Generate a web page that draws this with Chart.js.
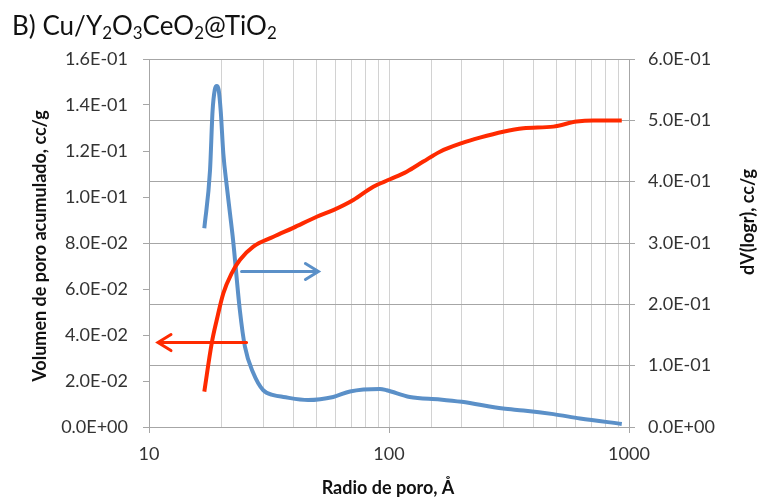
<!DOCTYPE html>
<html>
<head>
<meta charset="utf-8">
<script src="https://cdn.jsdelivr.net/npm/chart.js"></script>
<style>
  body { margin: 0; background: #fff; }
  #wrap { position: relative; width: 760px; height: 498px; }
  #titulo {
    position: absolute; left: 12px; top: 12px;
    font-family: Lato, "Open Sans", sans-serif; font-size: 26px; line-height: 1;
    color: #111; white-space: nowrap;
  }
  #titulo sub { font-size: 0.65em; vertical-align: -0.25em; }
</style>
</head>
<body>
<div id="wrap">
  <canvas id="poros" width="760" height="498"></canvas>
  <div id="titulo">B) Cu/Y<sub>2</sub>O<sub>3</sub>CeO<sub>2</sub>@TiO<sub>2</sub></div>
</div>
<script>
// volumen de poro acumulado (eje izquierdo)
const radioAcum = [17.0, 18.25, 19.15, 20.4, 22.1, 23.9, 27.2, 33, 39.9, 50, 58.6, 71, 86, 101, 118.5, 139, 163, 201, 239, 299, 363, 484, 605, 710, 933]
const volAcum = [0.0154, 0.0364, 0.0465, 0.0581, 0.0668, 0.0726, 0.0784, 0.0827, 0.0866, 0.0914, 0.0943, 0.0987, 0.1045, 0.1077, 0.1110, 0.1154, 0.1197, 0.1234, 0.1258, 0.1284, 0.1299, 0.1306, 0.1328, 0.1333, 0.1333]

// dV(logr) (eje derecho)
const radioDist = [17.0, 17.96, 18.4, 18.8, 19.15, 19.5, 19.9, 20.4, 21.1, 21.75, 22.4, 23.9, 25.1, 27.2, 29.9, 33, 36.3, 46, 58.6, 68.8, 91.7, 97.8, 122, 163, 201, 299, 363, 484, 625, 933]
const dVlogr = [0.324, 0.419, 0.515, 0.550, 0.556, 0.550, 0.515, 0.446, 0.392, 0.348, 0.305, 0.191, 0.131, 0.088, 0.060, 0.052, 0.049, 0.044, 0.049, 0.058, 0.062, 0.060, 0.049, 0.045, 0.041, 0.030, 0.027, 0.021, 0.014, 0.005]

// flechas (x inicio, x punta, y en eje izquierdo)
const flechaAzul = [24.3, 50.8, 0.0676]
const flechaRoja = [25.5, 10.9, 0.0367]

const ticksX = [10, 100, 1000]
const tituloX = 'Radio de poro, Å'
const tituloY = 'Volumen de poro acumulado, cc/g'
const tituloY1 = 'dV(logr), cc/g'

const rojo = '#ff2a00'
const azul = '#5b90c8'
const fuente = 'Lato, "Open Sans", sans-serif'

function expo(v){
  return v.toExponential(1).toUpperCase().replace(/E([+-])(\d)$/, 'E$10$2')
}

const flechas = {
  id: 'flechas',
  afterDatasetsDraw(chart){
    const ctx = chart.ctx, x = chart.scales.x, y = chart.scales.y
    ;[[flechaAzul, azul], [flechaRoja, rojo]].forEach(([f, col]) => {
      const x0 = x.getPixelForValue(f[0]), x1 = x.getPixelForValue(f[1]), yy = y.getPixelForValue(f[2])
      const dir = x1 > x0 ? 1 : -1
      ctx.save()
      ctx.strokeStyle = col
      ctx.lineWidth = 3
      ctx.lineCap = 'round'
      ctx.beginPath()
      ctx.moveTo(x0, yy); ctx.lineTo(x1, yy)
      ctx.moveTo(x1 - dir*13, yy - 8); ctx.lineTo(x1, yy); ctx.lineTo(x1 - dir*13, yy + 8)
      ctx.stroke()
      ctx.restore()
    })
  }
}

const titulos = {
  id: 'titulos',
  afterDraw(chart){
    const ctx = chart.ctx
    ctx.save()
    ctx.fillStyle = '#111'
    ctx.font = 'bold 18px ' + fuente
    ctx.textAlign = 'center'
    ctx.textBaseline = 'middle'
    ctx.fillText(tituloX, 388, 488)
    ctx.translate(40, 246); ctx.rotate(-Math.PI/2); ctx.fillText(tituloY, 0, 0)
    ctx.restore()
    ctx.save()
    ctx.fillStyle = '#111'
    ctx.font = 'bold 18px ' + fuente
    ctx.textAlign = 'center'
    ctx.textBaseline = 'middle'
    ctx.translate(748, 222); ctx.rotate(-Math.PI/2); ctx.fillText(tituloY1, 0, 0)
    ctx.restore()
  }
}

let ctx = document.getElementById('poros').getContext('2d')
let myChart = new Chart(ctx, {
  type: 'line',
  data: {
    datasets: [{
      label: 'Volumen acumulado',
      data: radioAcum.map((r, i) => ({x: r, y: volAcum[i]})),
      borderColor: rojo,
      borderWidth: 4,
      pointRadius: 0,
      cubicInterpolationMode: 'monotone',
      yAxisID: 'y'
    }, {
      label: 'dV(logr)',
      data: radioDist.map((r, i) => ({x: r, y: dVlogr[i]})),
      borderColor: azul,
      borderWidth: 4,
      pointRadius: 0,
      cubicInterpolationMode: 'monotone',
      yAxisID: 'y1'
    }]
  },
  options: {
    responsive: false,
    animation: false,
    layout: { padding: { top: 59, left: 0, right: 0, bottom: 0 } },
    plugins: { legend: { display: false }, tooltip: { enabled: false } },
    scales: {
      x: {
        type: 'logarithmic',
        min: 10, max: 1000,
        afterFit: s => { s.height = 71 },
        afterBuildTicks: s => { s.ticks = s.ticks.filter(t => t.value >= 10 && t.value <= 1000) },
        ticks: {
          autoSkip: false, maxRotation: 0, padding: 10,
          color: '#333', font: { family: fuente, size: 18 },
          callback: v => ticksX.includes(v) ? String(v) : ''
        },
        grid: {
          color: '#d2d2d2', lineWidth: 1, tickLength: 6,
          tickColor: c => ticksX.includes(c.tick && c.tick.value) ? '#a6a6a6' : 'rgba(0,0,0,0)'
        },
        border: { color: '#a6a6a6', width: 1 }
      },
      y: {
        position: 'left',
        min: 0, max: 0.16,
        afterFit: s => { s.width = 149 },
        ticks: { stepSize: 0.02, padding: 15, color: '#333', font: { family: fuente, size: 18 }, callback: v => expo(v) },
        grid: { drawOnChartArea: false, tickLength: 6, tickColor: '#a6a6a6' },
        border: { color: '#a6a6a6', width: 1 }
      },
      y1: {
        position: 'right',
        min: 0, max: 0.6,
        afterFit: s => { s.width = 131 },
        ticks: { stepSize: 0.1, padding: 13, color: '#333', font: { family: fuente, size: 18 }, callback: v => expo(v) },
        grid: { color: '#a6a6a6', lineWidth: 1, tickLength: 6, tickColor: '#a6a6a6' },
        border: { color: '#a6a6a6', width: 1 }
      }
    }
  },
  plugins: [flechas, titulos]
})
</script>
</body>
</html>
